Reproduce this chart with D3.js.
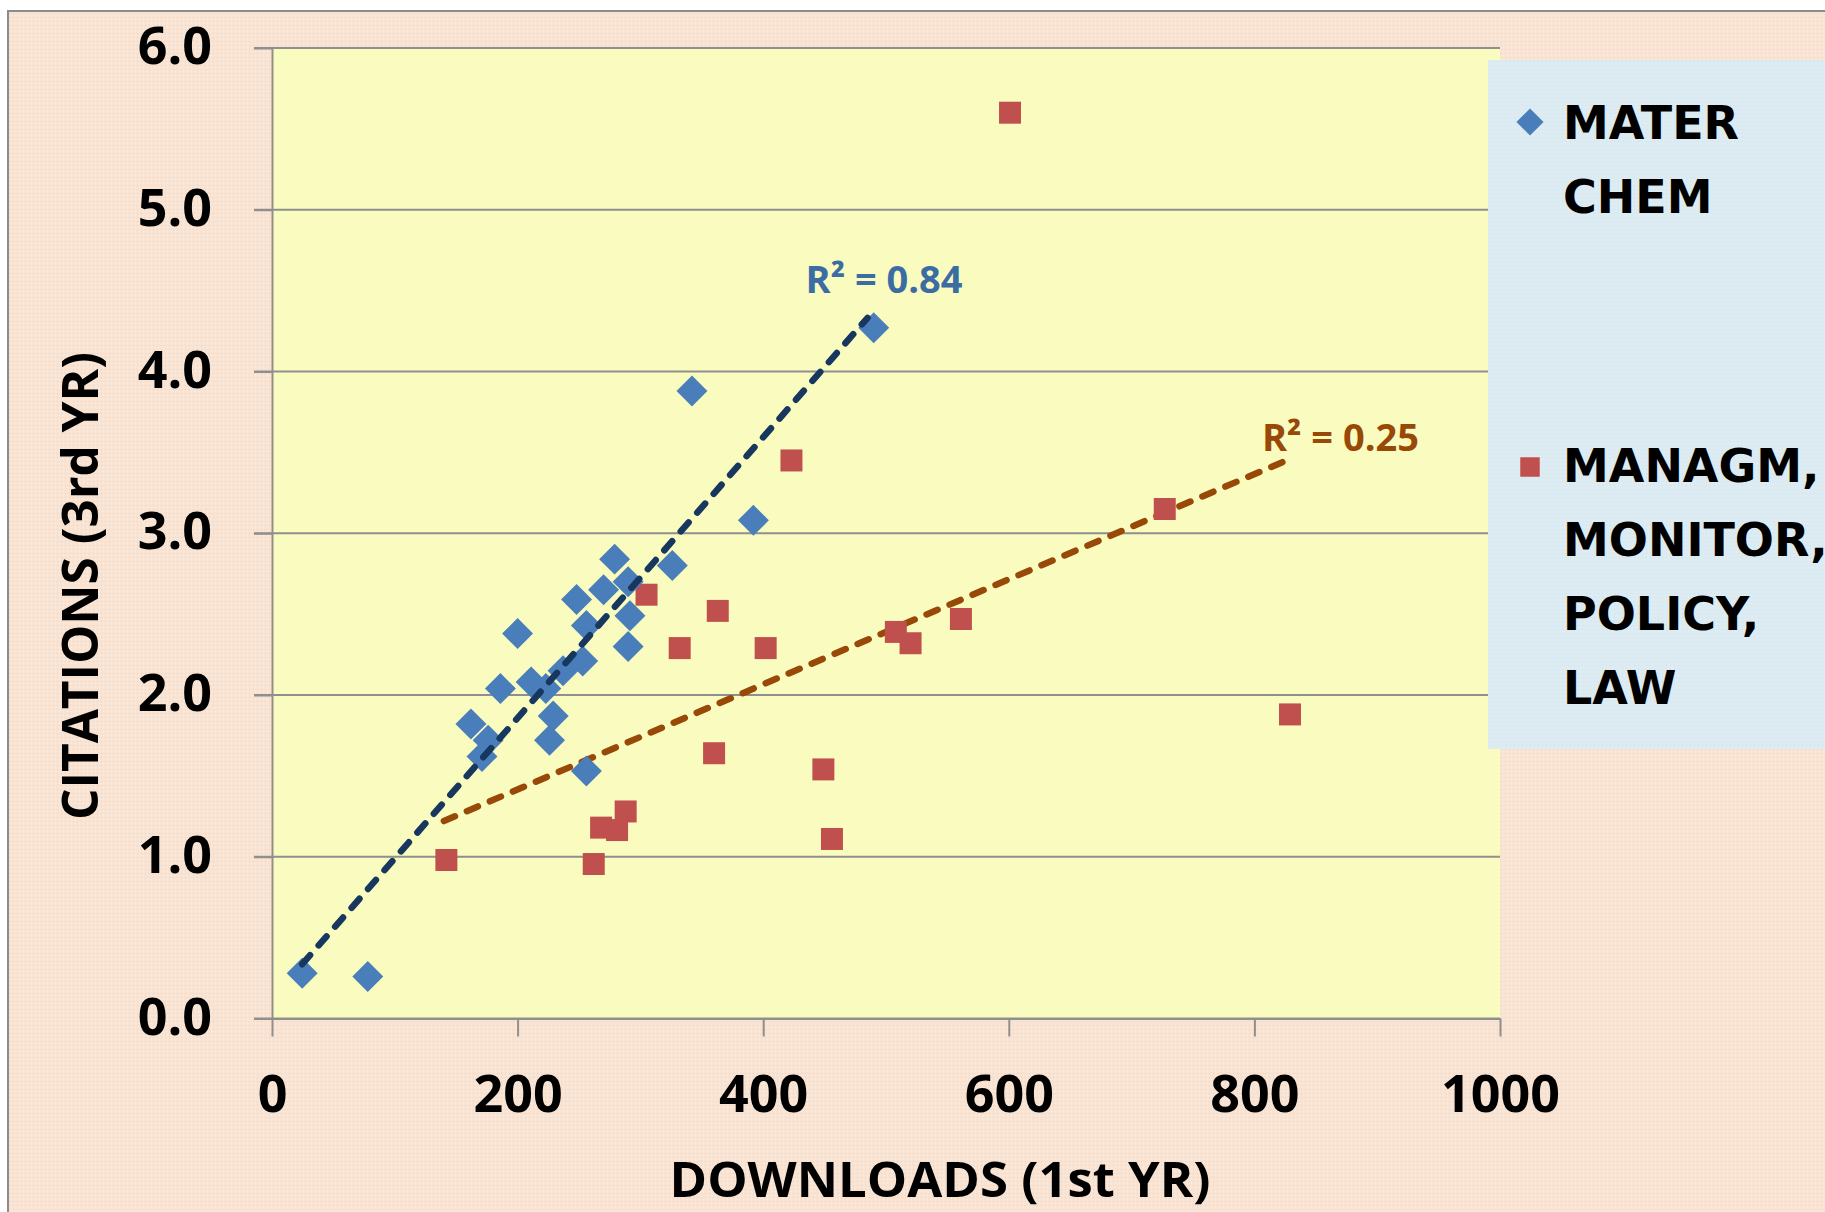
<!DOCTYPE html>
<html>
<head>
<meta charset="utf-8">
<script src="https://cdn.jsdelivr.net/npm/d3@7"></script>
<style>
  body { margin: 0; background: #fff; }
  svg { display: block; }
</style>
</head>
<body>
<div id="chart"></div>
<script>
// MATER CHEM (blue diamonds)
var materDownloads = [24.6, 78, 490, 342, 392, 279, 326, 290, 248, 270, 256, 291.5, 200, 290, 253, 237, 211, 223, 186, 229, 162, 226, 176, 171, 256];
var materCitations = [0.28, 0.26, 4.27, 3.88, 3.08, 2.84, 2.80, 2.70, 2.59, 2.65, 2.43, 2.49, 2.38, 2.30, 2.21, 2.15, 2.08, 2.04, 2.04, 1.87, 1.82, 1.72, 1.72, 1.62, 1.53];

// MANAGM, MONITOR, POLICY, LAW (red squares)
var managDownloads = [601, 423, 727, 305, 363, 332, 402, 508, 520, 561, 829, 360, 449, 456, 288, 268, 281, 262, 142];
var managCitations = [5.60, 3.45, 3.15, 2.62, 2.52, 2.29, 2.29, 2.39, 2.32, 2.47, 1.88, 1.64, 1.54, 1.11, 1.28, 1.18, 1.165, 0.955, 0.98];

// linear trend lines: [slope, intercept], [xFrom, xTo]
var materTrend = [0.00868, 0.122];
var materTrendRange = [24.6, 485];
var managTrend = [0.003249, 0.766];
var managTrendRange = [140, 829];
var r2Labels = ["R\u00B2 = 0.84", "R\u00B2 = 0.25"];

var xTicks = [0, 200, 400, 600, 800, 1000];
var yTicks = [0, 1, 2, 3, 4, 5, 6];
var legendMater = ["MATER", "CHEM"];
var legendManag = ["MANAGM,", "MONITOR,", "POLICY,", "LAW"];

var W = 1825, H = 1212;
var margin = {top: 48, right: 325, bottom: 193.5, left: 272},
  width = W - margin.left - margin.right,
  height = H - margin.top - margin.bottom;

var colBlue = "#4a7ebb", colRed = "#c0504d";
var colBlueLine = "#17375e", colRedLine = "#984807";
var axisFont = "'Open Sans', sans-serif";

var x = d3.scaleLinear().domain([0, 1000]).range([0, width]);
var y = d3.scaleLinear().domain([0, 6]).range([height, 0]);

var svg = d3.select("#chart").append("svg")
  .attr("width", W)
  .attr("height", H);

// speckled background texture
var defs = svg.append("defs");
var pat = defs.append("pattern")
  .attr("id", "speckle")
  .attr("width", 4).attr("height", 4)
  .attr("patternUnits", "userSpaceOnUse");
pat.append("rect").attr("width", 4).attr("height", 4).attr("fill", "#f9e4d4");
pat.append("rect").attr("x", 1).attr("y", 1).attr("width", 1).attr("height", 1).attr("fill", "#efd6c4");
pat.append("rect").attr("x", 3).attr("y", 3).attr("width", 1).attr("height", 1).attr("fill", "#fcecdf");

var patB = defs.append("pattern")
  .attr("id", "speckleBlue")
  .attr("width", 4).attr("height", 4)
  .attr("patternUnits", "userSpaceOnUse");
patB.append("rect").attr("width", 4).attr("height", 4).attr("fill", "#dcecf2");
patB.append("rect").attr("x", 2).attr("y", 1).attr("width", 1).attr("height", 1).attr("fill", "#cfe2ea");

// chart area with border
svg.append("rect")
  .attr("x", 8).attr("y", 11)
  .attr("width", W + 20).attr("height", H + 20)
  .attr("fill", "url(#speckle)")
  .attr("stroke", "#8c8c8c")
  .attr("stroke-width", 2);

var g = svg.append("g")
  .attr("transform", "translate(" + margin.left + "," + margin.top + ")");

// plot area
g.append("rect")
  .attr("width", width)
  .attr("height", height)
  .attr("fill", "#fafcbf");

// gridlines (extend left as tick marks)
g.append("g")
  .attr("class", "grid")
  .selectAll("line")
  .data(yTicks)
  .enter().append("line")
  .attr("x1", -18)
  .attr("x2", width)
  .attr("y1", function(d) { return y(d); })
  .attr("y2", function(d) { return y(d); })
  .attr("stroke", "#8f8f8f")
  .attr("stroke-width", 2);

var yAxis = d3.axisLeft(y)
  .tickValues(yTicks)
  .tickSize(18)
  .tickSizeOuter(0)
  .tickPadding(42)
  .tickFormat(d3.format(".1f"));

var xAxis = d3.axisBottom(x)
  .tickValues(xTicks)
  .tickSize(18)
  .tickSizeOuter(0)
  .tickPadding(39)
  .tickFormat(d3.format("d"));

var gy = g.append("g").attr("class", "y axis").call(yAxis);
var gx = g.append("g").attr("class", "x axis")
  .attr("transform", "translate(0," + height + ")")
  .call(xAxis);

[gx, gy].forEach(function(a) {
  a.selectAll("path, line").attr("stroke", "#8f8f8f").attr("stroke-width", 2);
  a.selectAll("text")
    .style("font-family", axisFont)
    .style("font-weight", 700)
    .style("font-size", "52px")
    .attr("fill", "#000");
});
gy.selectAll("text").attr("dy", "0.30em");

// axis titles
svg.append("text")
  .attr("x", 940)
  .attr("y", 1197)
  .attr("text-anchor", "middle")
  .attr("textLength", 541)
  .attr("lengthAdjust", "spacingAndGlyphs")
  .style("font-family", axisFont)
  .style("font-weight", 700)
  .style("font-size", "48px")
  .text("DOWNLOADS (1st YR)");

svg.append("text")
  .attr("transform", "translate(98,586) rotate(-90)")
  .attr("text-anchor", "middle")
  .attr("textLength", 468)
  .attr("lengthAdjust", "spacingAndGlyphs")
  .style("font-family", axisFont)
  .style("font-weight", 700)
  .style("font-size", "51px")
  .text("CITATIONS (3rd YR)");

// trend lines
function trendPoints(coef, range) {
  return range.map(function(v) { return [v, coef[0] * v + coef[1]]; });
}
var line = d3.line()
  .x(function(d) { return x(d[0]); })
  .y(function(d) { return y(d[1]); });

// series
var materData = materDownloads.map(function(d, i) { return {x: d, y: materCitations[i]}; });
var managData = managDownloads.map(function(d, i) { return {x: d, y: managCitations[i]}; });

var square = d3.symbol().type(d3.symbolSquare);

g.append("path")
  .datum(trendPoints(managTrend, managTrendRange))
  .attr("d", line)
  .attr("fill", "none")
  .attr("stroke", colRedLine)
  .attr("stroke-width", 6.5)
  .attr("stroke-linecap", "round")
  .attr("stroke-dasharray", "12,13");

g.selectAll(".manag")
  .data(managData)
  .enter().append("path")
  .attr("class", "manag")
  .attr("d", square.size(484)())
  .attr("transform", function(d) { return "translate(" + x(d.x) + "," + y(d.y) + ")"; })
  .attr("fill", colRed);

g.selectAll(".mater")
  .data(materData)
  .enter().append("path")
  .attr("class", "mater")
  .attr("d", square.size(480)())
  .attr("transform", function(d) { return "translate(" + x(d.x) + "," + y(d.y) + ") rotate(45)"; })
  .attr("fill", colBlue);

g.append("path")
  .datum(trendPoints(materTrend, materTrendRange))
  .attr("d", line)
  .attr("fill", "none")
  .attr("stroke", colBlueLine)
  .attr("stroke-width", 6.5)
  .attr("stroke-linecap", "round")
  .attr("stroke-dasharray", "12,13");

// R² labels near trend line ends
var materEnd = trendPoints(materTrend, materTrendRange)[1];
var managEnd = trendPoints(managTrend, managTrendRange)[1];
g.append("text")
  .attr("x", x(materEnd[0]) - 62)
  .attr("y", y(materEnd[1]) - 25)
  .attr("fill", "#3c6ca4")
  .style("font-family", axisFont)
  .style("font-weight", 700)
  .style("font-size", "38px")
  .text(r2Labels[0]);
g.append("text")
  .attr("x", x(managEnd[0]) - 28)
  .attr("y", y(managEnd[1]) - 8)
  .attr("fill", "#984807")
  .style("font-family", axisFont)
  .style("font-weight", 700)
  .style("font-size", "38px")
  .text(r2Labels[1]);

// legend
var legend = svg.append("g").attr("class", "legend");
legend.append("rect")
  .attr("x", 1488).attr("y", 60)
  .attr("width", 400).attr("height", 689)
  .attr("fill", "url(#speckleBlue)");

legend.append("path")
  .attr("d", square.size(370)())
  .attr("transform", "translate(1530,122) rotate(45)")
  .attr("fill", colBlue);
legend.append("path")
  .attr("d", square.size(380)())
  .attr("transform", "translate(1530,467)")
  .attr("fill", colRed);

legend.selectAll(".lm")
  .data(legendMater)
  .enter().append("text")
  .attr("class", "lm")
  .attr("x", 1563)
  .attr("y", function(d, i) { return 139 + i * 74; })
  .style("font-family", "'DejaVu Sans', sans-serif")
  .style("font-weight", 700)
  .style("font-size", "46px")
  .text(function(d) { return d; });

legend.selectAll(".lr")
  .data(legendManag)
  .enter().append("text")
  .attr("class", "lr")
  .attr("x", 1563)
  .attr("y", function(d, i) { return 482 + i * 74; })
  .style("font-family", "'DejaVu Sans', sans-serif")
  .style("font-weight", 700)
  .style("font-size", "46px")
  .text(function(d) { return d; });
</script>
</body>
</html>
